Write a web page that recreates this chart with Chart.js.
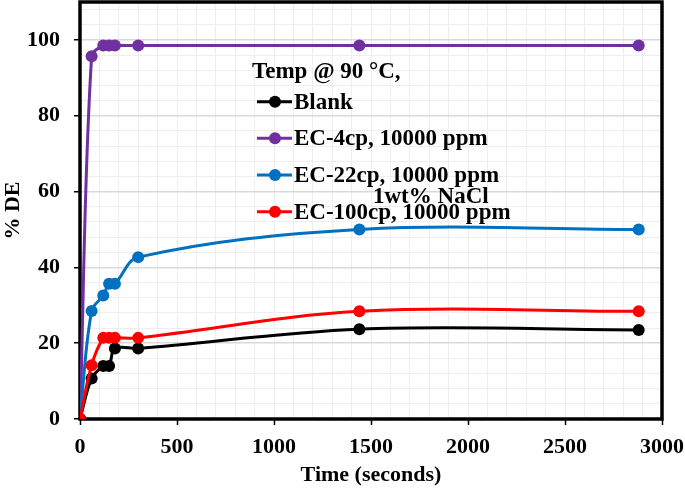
<!DOCTYPE html>
<html>
<head>
<meta charset="utf-8">
<script src="https://cdn.jsdelivr.net/npm/chart.js@4"></script>
<style>
  html, body { margin: 0; padding: 0; background: #fff; }
  #wrap { width: 685px; height: 491px; position: relative; }
</style>
</head>
<body>
<div id="wrap"><canvas id="chart"></canvas></div>
<script>
// Time points (seconds) and % DE for each sample
const times = [0, 60, 120, 150, 180, 300, 1440, 2880]
const blank = [0, 10.7, 14.0, 14.0, 18.6, 18.6, 23.7, 23.5]
const ec4cp = [0, 95.7, 98.5, 98.5, 98.5, 98.5, 98.5, 98.5]
const ec22cp = [0, 28.5, 32.6, 35.7, 35.7, 42.7, 50.0, 50.0]
const ec100cp = [0, 14.2, 21.4, 21.4, 21.4, 21.4, 28.4, 28.4]

const legendTitle = 'Temp @ 90 °C,'
const noteText = '1wt% NaCl'

const FONT = 'Liberation Serif, Times New Roman, serif'

function toPoints(values) {
  return values.map((y, i) => ({ x: times[i], y: y }))
}

function series(label, values, color, order) {
  return {
    label: label,
    data: toPoints(values),
    borderColor: color,
    backgroundColor: color,
    pointBackgroundColor: color,
    pointBorderWidth: 0,
    pointRadius: 6,
    borderWidth: 3,
    tension: 0.35,
    order: order
  }
}

// frame around the plot area, drawn under the markers
const framePlugin = {
  id: 'frame',
  beforeDatasetsDraw(chart) {
    const { ctx, chartArea: a } = chart
    ctx.save()
    ctx.strokeStyle = '#000'
    ctx.lineWidth = 3.5
    ctx.strokeRect(a.left, a.top, a.right - a.left, a.bottom - a.top)
    ctx.restore()
  }
}

// legend sits inside the plot, under a title line
const insideLegend = {
  id: 'insideLegend',
  afterDraw(chart) {
    const ctx = chart.ctx
    const rows = [101.7, 138.3, 175, 211.7]
    ctx.save()
    ctx.font = 'bold 23px ' + FONT
    ctx.fillStyle = '#000'
    ctx.textBaseline = 'alphabetic'
    ctx.textAlign = 'left'
    ctx.fillText(legendTitle, 252, 78)

    ctx.textBaseline = 'middle'
    chart.data.datasets.forEach((ds, i) => {
      const y = rows[i]
      ctx.strokeStyle = ds.borderColor
      ctx.lineWidth = 3
      ctx.beginPath()
      ctx.moveTo(257, y)
      ctx.lineTo(292, y)
      ctx.stroke()
      ctx.fillStyle = ds.borderColor
      ctx.beginPath()
      ctx.arc(275, y, 6, 0, Math.PI * 2)
      ctx.fill()
      ctx.fillStyle = '#000'
      ctx.fillText(ds.label, 294, y + 1)
    })

    ctx.fillText(noteText, 373, 197)
    ctx.restore()
  }
}

const majorGrid = '#d9d9d9'
const minorGrid = '#eeeeee'

new Chart(document.getElementById('chart'), {
  type: 'line',
  data: {
    datasets: [
      series('Blank', blank, '#000000', 1),
      series('EC-4cp, 10000 ppm', ec4cp, '#7030a0', 3),
      series('EC-22cp, 10000 ppm', ec22cp, '#0070c0', 2),
      series('EC-100cp, 10000 ppm', ec100cp, '#ff0000', 0)
    ]
  },
  options: {
    responsive: true,
    maintainAspectRatio: false,
    animation: false,
    layout: { autoPadding: false, padding: { top: 2, right: 23, left: 0, bottom: 0 } },
    font: { family: FONT },
    plugins: {
      legend: { display: false },
      tooltip: { enabled: false }
    },
    scales: {
      x: {
        type: 'linear',
        min: 0,
        max: 3000,
        border: { display: false },
        grid: {
          color: minorGrid,
          lineWidth: 1,
          tickLength: 6,
          tickColor: (c) => (c.tick && c.tick.value % 500 === 0 ? '#000' : 'rgba(0,0,0,0)'),
          tickWidth: 1.5
        },
        ticks: {
          stepSize: 100,
          autoSkip: false,
          maxRotation: 0,
          padding: 9,
          color: '#000',
          font: { family: FONT, size: 22, weight: 'bold' },
          callback: (v) => (v % 500 === 0 ? v : '')
        },
        title: {
          display: true,
          text: 'Time (seconds)',
          color: '#000',
          font: { family: FONT, size: 22, weight: 'bold' },
          padding: { top: 0, bottom: 2 }
        },
        afterFit(scale) {
          scale.height = 72
          scale.paddingLeft = 0
          scale.paddingRight = 0
        }
      },
      y: {
        min: 0,
        max: 110,
        border: { display: false },
        grid: {
          color: (c) => (c.tick && c.tick.value % 20 === 0 ? majorGrid : minorGrid),
          lineWidth: (c) => (c.tick && c.tick.value % 20 === 0 ? 1.5 : 1),
          tickLength: 6,
          tickColor: (c) => (c.tick && c.tick.value % 20 === 0 ? '#000' : 'rgba(0,0,0,0)'),
          tickWidth: 1.5
        },
        ticks: {
          stepSize: 4,
          includeBounds: false,
          autoSkip: false,
          padding: 14,
          color: '#000',
          font: { family: FONT, size: 22, weight: 'bold' },
          callback: (v) => (v % 20 === 0 ? v : '')
        },
        title: {
          display: true,
          text: '% DE',
          color: '#000',
          font: { family: FONT, size: 22, weight: 'bold' },
          padding: { top: 0, bottom: 0 }
        },
        afterFit(scale) {
          scale.width = 80
          scale.paddingTop = 0
          scale.paddingBottom = 0
        }
      }
    }
  },
  plugins: [framePlugin, insideLegend]
})
</script>
</body>
</html>
